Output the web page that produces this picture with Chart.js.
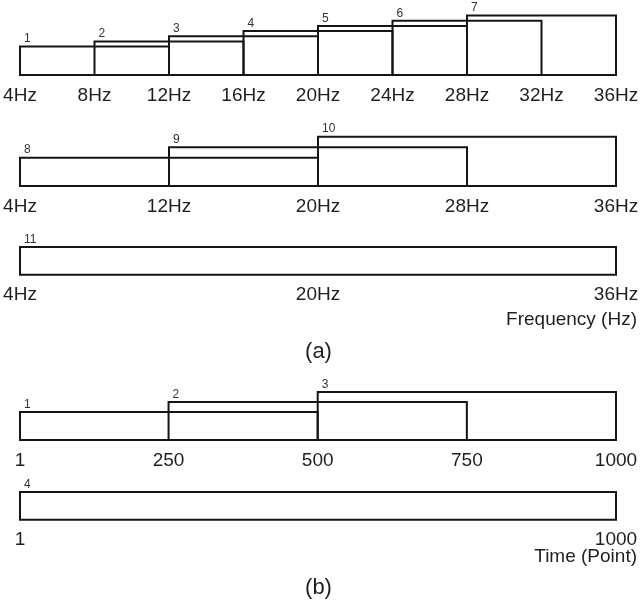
<!DOCTYPE html>
<html><head><meta charset="utf-8">
<script src="https://cdn.jsdelivr.net/npm/chart.js@4/dist/chart.umd.min.js"></script>
<style>
html,body{margin:0;padding:0;background:#fff;}
#wrap{position:relative;width:641px;height:605px;overflow:hidden;background:#fff;}
#wrap canvas{position:absolute;left:0;}
</style></head><body><div id="wrap"></div>
<script>
// ---- data ----
const freqBandIds8 = ['1','2','3','4','5','6','7'];
const freqBandStart8 = [4, 8, 12, 16, 20, 24, 28];
const freqBandEnd8 = [12, 16, 20, 24, 28, 32, 36];
const freqTicks8 = [4, 8, 12, 16, 20, 24, 28, 32, 36];

const freqBandIds16 = ['8','9','10'];
const freqBandStart16 = [4, 12, 20];
const freqBandEnd16 = [20, 28, 36];
const freqTicks16 = [4, 12, 20, 28, 36];

const freqBandIds32 = ['11'];
const freqBandStart32 = [4];
const freqBandEnd32 = [36];
const freqTicks32 = [4, 20, 36];

const timeWinIds500 = ['1','2','3'];
const timeWinStart500 = [1, 250, 500];
const timeWinEnd500 = [500, 750, 1000];
const timeTicks500 = [1, 250, 500, 750, 1000];

const timeWinIds1000 = ['4'];
const timeWinStart1000 = [1];
const timeWinEnd1000 = [1000];
const timeTicks1000 = [1, 1000];

const freqUnit = 'Hz';
const timeUnit = '';
const freqAxisTitle = 'Frequency (Hz)';
const timeAxisTitle = 'Time (Point)';
const panelLabelA = '(a)';
const panelLabelB = '(b)';

// ---- style / layout ----
const FONT = "'Liberation Sans', Arial, Helvetica, sans-serif";
const TEXT = '#1f1f1f';
const LINE = '#151515';

const rows = [
  {ids:freqBandIds8, start:freqBandStart8, end:freqBandEnd8, ticks:freqTicks8, unit:freqUnit,
   top:0, h:105, padTop:10.4, yMin:-4.5, yMax:8, axisH:30},
  {ids:freqBandIds16, start:freqBandStart16, end:freqBandEnd16, ticks:freqTicks16, unit:freqUnit,
   top:110, h:106, padTop:16.15, yMin:-1.7, yMax:4, axisH:30},
  {ids:freqBandIds32, start:freqBandStart32, end:freqBandEnd32, ticks:freqTicks32, unit:freqUnit,
   top:225, h:140, padTop:22, yMin:-2, yMax:1, axisH:30,
   axisTitle:freqAxisTitle, subPad:3.6, panel:panelLabelA, panelPad:7.4},
  {ids:timeWinIds500, start:timeWinStart500, end:timeWinEnd500, ticks:timeTicks500, unit:timeUnit,
   top:370, h:100, padTop:22, yMin:-1.8, yMax:3, axisH:30},
  {ids:timeWinIds1000, start:timeWinStart1000, end:timeWinEnd1000, ticks:timeTicks1000, unit:timeUnit,
   top:475, h:126, padTop:17, yMin:-2, yMax:1, axisH:29,
   axisTitle:timeAxisTitle, subPad:-3.4, panel:panelLabelB, panelPad:6.4}
];

const labelPlugin = {
  id: 'winLabels',
  afterDatasetsDraw(chart) {
    const ctx = chart.ctx;
    ctx.save();
    ctx.font = '12px ' + FONT;
    ctx.fillStyle = '#333';
    ctx.textAlign = 'left';
    ctx.textBaseline = 'middle';
    chart.data.datasets.forEach((ds, i) => {
      const p = chart.getDatasetMeta(i).data[1];
      ctx.fillText(ds.label, p.x + 4, p.y - 7.5);
    });
    ctx.restore();
  }
};

const wrap = document.getElementById('wrap');
rows.forEach(r => {
  const c = document.createElement('canvas');
  c.width = 641; c.height = r.h;
  c.style.top = r.top + 'px';
  c.style.width = '641px'; c.style.height = r.h + 'px';
  wrap.appendChild(c);

  const datasets = r.ids.map((id, i) => ({
    label: id,
    data: [
      {x: r.start[i], y: r.yMin}, {x: r.start[i], y: i + 1},
      {x: r.end[i], y: i + 1}, {x: r.end[i], y: r.yMin},
      {x: r.start[i], y: r.yMin}
    ],
    showLine: true, borderColor: LINE, borderWidth: 2, pointRadius: 0,
    fill: false, clip: false, tension: 0, borderJoinStyle: 'miter', borderCapStyle: 'square'
  }));

  new Chart(c, {
    type: 'scatter',
    data: {datasets},
    options: {
      responsive: false, animation: false, devicePixelRatio: 1,
      layout: {padding: {left: 0, right: 4, top: r.padTop, bottom: 0}},
      plugins: {
        legend: {display: false},
        tooltip: {enabled: false},
        subtitle: r.axisTitle ? {
          display: true, text: r.axisTitle, position: 'bottom', align: 'end', color: TEXT,
          font: {family: FONT, size: 19, weight: 'normal'}, padding: {top: r.subPad, bottom: 0}
        } : {display: false},
        title: r.panel ? {
          display: true, text: r.panel, position: 'bottom', align: 'center', color: TEXT,
          font: {family: FONT, size: 22, weight: 'normal'}, padding: {top: r.panelPad, bottom: 0}
        } : {display: false}
      },
      scales: {
        x: {
          type: 'linear', min: r.ticks[0], max: r.ticks[r.ticks.length - 1],
          grid: {display: false, drawTicks: false}, border: {display: false},
          ticks: {padding: 9, color: TEXT, font: {family: FONT, size: 19}, autoSkip: false,
                  maxRotation: 0, callback: v => v + r.unit},
          afterBuildTicks: s => { s.ticks = r.ticks.map(v => ({value: v})); },
          afterFit: s => { s.height = r.axisH; s.paddingLeft = 0; s.paddingRight = 0; }
        },
        y: {
          type: 'linear', position: 'left', min: r.yMin, max: r.yMax,
          grid: {display: false}, border: {display: false}, ticks: {display: false},
          afterFit: s => { s.width = 20; }
        },
        y2: {
          type: 'linear', position: 'right', min: 0, max: 1,
          grid: {display: false}, border: {display: false}, ticks: {display: false},
          afterFit: s => { s.width = 21; }
        }
      }
    },
    plugins: [labelPlugin]
  });
});
</script>
</body></html>
